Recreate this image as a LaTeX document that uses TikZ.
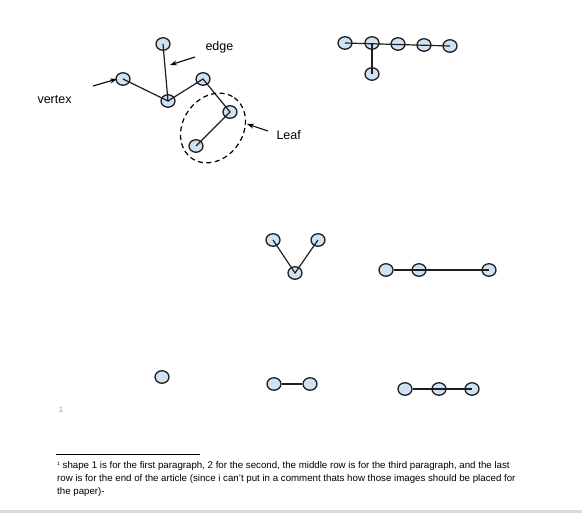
\documentclass[tikz,border=0pt]{standalone}
\usepackage{fontspec}
\setmainfont{Liberation Sans}
\usetikzlibrary{shapes.geometric,arrows.meta}
\definecolor{vfill}{RGB}{207, 226, 243}
\definecolor{vline}{RGB}{30, 30, 30}
\definecolor{notemark}{RGB}{150, 150, 95}

\tikzset{
  vtx/.style={ellipse, draw=vline, line width=1.3pt, fill=vfill, minimum width=14pt, minimum height=12.5pt, inner sep=0pt},
  link/.style={draw=vline, line width=1.2pt},
  pointer/.style={-{Stealth[length=7pt,width=5pt]}, line width=1.1pt},
  lbl/.style={font=\fontsize{12.5}{14}\selectfont}
}

\begin{document}
\begin{tikzpicture}[x=1pt,y=-1pt]
\useasboundingbox (0,0) rectangle (582,513);
\fill[white] (0,0) rectangle (582,513);
\fill[black!15] (0,510) rectangle (582,513);
% Tree with labels
\node[vtx] (t1) at (163,44) {};
\node[vtx] (t2) at (123,79) {};
\node[vtx] (t3) at (203,79) {};
\node[vtx] (t4) at (230,112) {};
\node[vtx] (t5) at (196,146) {};
\node[vtx] (t0) at (168,101) {};
\draw[link] (t1.center) -- (t0.center) -- (t2.center);
\draw[link] (t0.center) -- (t3.center) -- (t4.center) -- (t5.center);
\draw[dash pattern=on 5pt off 3.5pt, line width=1.2pt, rotate around={55:(213,128)}] (213,128) ellipse (37 and 30);
\node[lbl, anchor=west] (edgelbl) at (202,47) {edge};
\node[lbl, anchor=west] (vertexlbl) at (34,100) {vertex};
\node[lbl, anchor=west] (leaflbl) at (273,135) {Leaf};
\coordinate (edgetip) at (170,65);
\coordinate (vertextip) at (117,79);
\coordinate (leaftip) at (247,124);
\draw[pointer] (195,57) -- (edgetip);
\draw[pointer] (93,86) -- (vertextip);
\draw[pointer] (268,131) -- (leaftip);
% Comb
\foreach \i/\x/\y in {1/345/43, 2/372/43, 3/398/44, 4/424/45, 5/450/46} {
    \node[vtx] (c\i) at (\x,\y) {};
}
\node[vtx] (c6) at (372,74) {};
\draw[link] (c1.center) -- (c5.center);
\draw[link] (c2.center) -- (c6.center);
% Middle row
\node[vtx] (v1) at (273,240) {};
\node[vtx] (v2) at (318,240) {};
\node[vtx] (v0) at (295,273) {};
\draw[link] (v1.center) -- (v0.center) -- (v2.center);
\node[vtx] (p1) at (386,270) {};
\node[vtx] (p2) at (419,270) {};
\node[vtx] (p3) at (489,270) {};
\draw[link] (p1.east) -- (p3.center);
% Last row
\node[vtx] (s1) at (162,377) {};
\node[vtx] (d1) at (274,384) {};
\node[vtx] (d2) at (310,384) {};
\draw[link] (d1.east) -- (d2.west);
\node[vtx] (r1) at (405,389) {};
\node[vtx] (r2) at (439,389) {};
\node[vtx] (r3) at (472,389) {};
\draw[link] (r1.east) -- (r3.center);
% Footnote
\node[notemark, font=\fontsize{7.5}{8}\selectfont] (mark) at (61,410) {1};
\draw[line width=0.9pt] (56,454) -- (200,454);
\node[anchor=north west, align=left, inner sep=0pt, font=\fontsize{9.7}{13}\selectfont] (note) at (57,461)
  {\raisebox{2.5pt}{\fontsize{5}{6}\selectfont 1} shape 1 is for the first paragraph, 2 for the second, the middle row is for the third paragraph, and the last\\
   row is for the end of the article (since i can't put in a comment thats how those images should be placed for\\
   the paper)-};
\end{tikzpicture}
\end{document}
